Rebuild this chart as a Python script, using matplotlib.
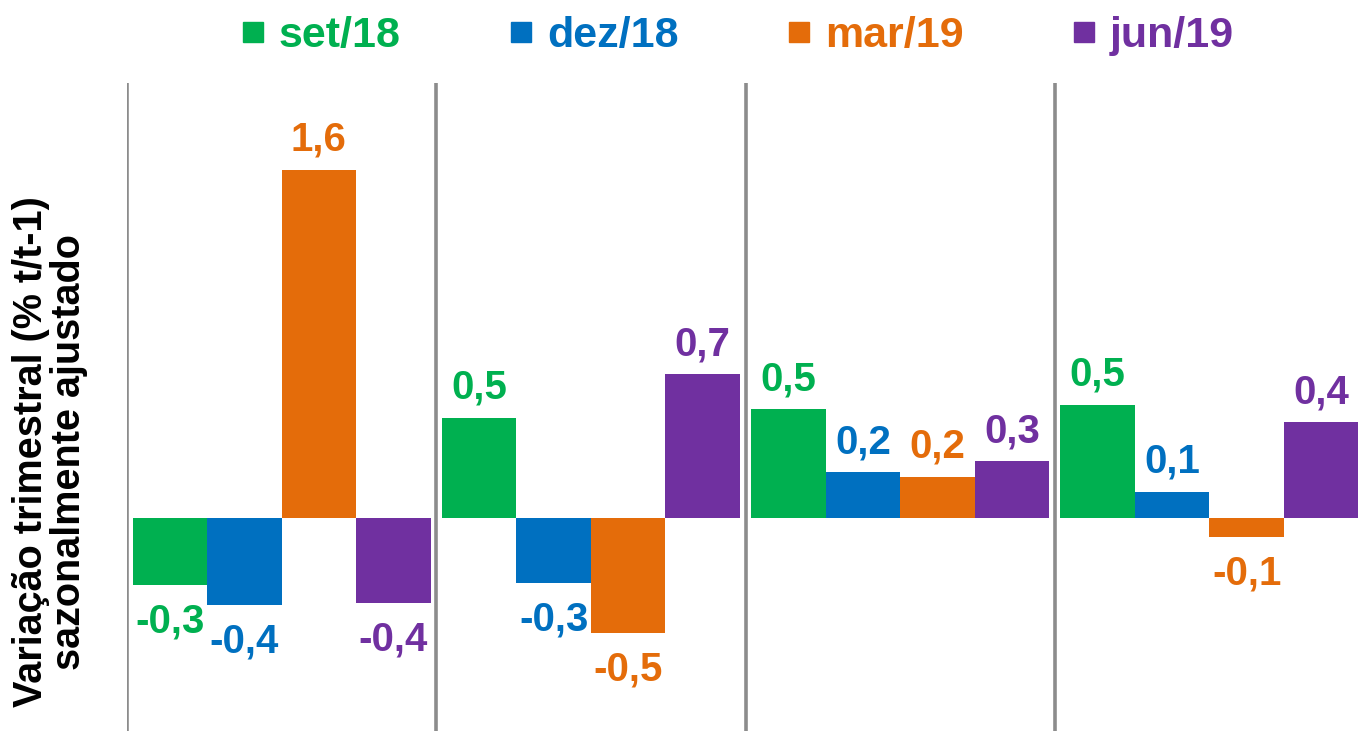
import numpy as np
from matplotlib import pyplot as plt
from matplotlib.lines import Line2D

plt.rcParams['font.family'] = ['Liberation Sans', 'DejaVu Sans']
plt.rcParams['font.weight'] = 'bold'

series = ['set/18', 'dez/18', 'mar/19', 'jun/19']
colors = ['#00B050', '#0070C0', '#E46C0A', '#7030A0']
# values per series, over the 4 groups
set18 = [-0.31, 0.46, 0.50, 0.52]
dez18 = [-0.40, -0.30, 0.21, 0.12]
mar19 = [1.60, -0.53, 0.19, -0.09]
jun19 = [-0.39, 0.66, 0.26, 0.44]
values = [set18, dez18, mar19, jun19]

fig = plt.figure(figsize=(13.6, 7.31), dpi=100)
ax = fig.add_axes([127/1360, 0, 1 - 127/1360, 1 - 83/731])

ngroup = 4
w = 0.241
x = np.arange(ngroup)
for i, (vals, c) in enumerate(zip(values, colors)):
  pos = x + (i - 1.5) * w
  ax.bar(pos, vals, width=w, color=c, edgecolor='none')
  for px, v in zip(pos, vals):
    lab = f'{abs(v):.1f}'.replace('.', ',')
    if v < 0:
      lab = '-' + lab
    off = 8 if v >= 0 else -12.5
    ax.annotate(lab, (px, v), xytext=(0, off), textcoords='offset points',
                ha='center', va='bottom' if v >= 0 else 'top',
                color=c, fontsize=29, fontweight='bold')

for d in np.arange(ngroup) - 0.5:
  ax.axvline(d, color='#8c8c8c', lw=2.6)

ax.set_xlim(-0.5, 3.487)
ax.set_ylim(-0.98, 2.0)
ax.axis('off')

handles = [Line2D([], [], marker='s', ls='none', color=c, markersize=15) for c in colors]
leg = fig.legend(handles, series, loc='upper left', bbox_to_anchor=(201/1360, 1.031), ncol=4,
                 frameon=False, handletextpad=0.3, columnspacing=2.5, handlelength=0.6,
                 prop={'size': 31, 'weight': 'bold'})
for t, c in zip(leg.get_texts(), colors):
  t.set_color(c)

fig.text(50/1360, 1 - 452/731, 'Variação trimestral (% t/t-1)\nsazonalmente ajustado',
         rotation=90, ha='center', va='center', multialignment='center',
         fontsize=28.5, fontweight='bold', color='black', linespacing=1.0)

fig.savefig('out.png', dpi=100)
